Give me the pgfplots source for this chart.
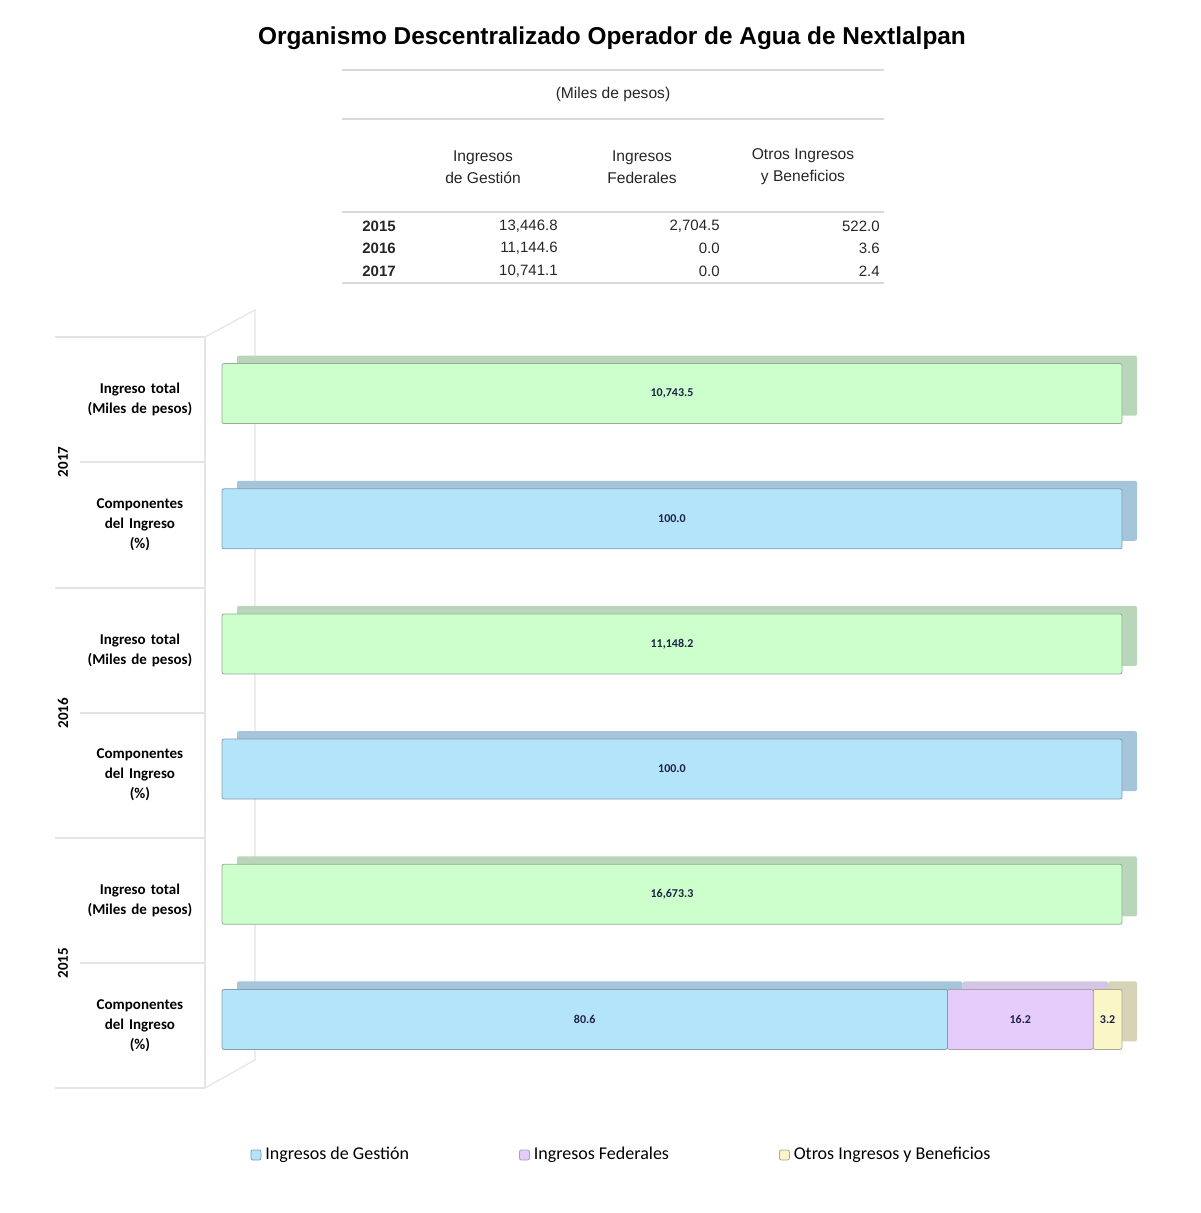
\documentclass[border=0pt]{standalone}
\usepackage{pgfplots}
\pgfplotsset{compat=1.18}
\usepackage{pgfplotstable}
\usepackage{fontspec}
\setmainfont{Liberation Sans}
\newfontfamily\calfont{Carlito}

\definecolor{gest}{RGB}{180,228,250}
\definecolor{gestd}{RGB}{165,198,218}
\definecolor{fed}{RGB}{230,204,250}
\definecolor{fedd}{RGB}{212,198,226}
\definecolor{otros}{RGB}{250,246,200}
\definecolor{otrosd}{RGB}{215,211,182}
\definecolor{tot}{RGB}{204,255,204}
\definecolor{totd}{RGB}{186,214,186}
\definecolor{wall}{RGB}{228,228,228}
\definecolor{lbl}{RGB}{30,35,70}

% rows: 0 = 2015 componentes, 1 = 2015 total, ... 5 = 2017 total
\pgfplotstableread{
row gestion federales otros pct total
0 80.6 16.2 3.2 0 0
1 0 0 0 100 16673.3
2 100.0 0 0 0 0
3 0 0 0 100 11148.2
4 100.0 0 0 0 0
5 0 0 0 100 10743.5
}\ingresos

\pgfplotsset{
  barbase/.style={
    xbar stacked, bar width=30pt, bar shift=3pt,
    scale only axis, width=450pt, height=375.5pt,
    xmin=0, xmax=100, ymin=-0.5, ymax=5.5,
    axis line style={draw=none}, xtick=\empty,
    major tick length=0pt, clip=false,
  },
}

\begin{document}
\begin{tikzpicture}
\begin{scope}[x=1pt, y=1pt]
\useasboundingbox (0,0) rectangle (600,-606.5);

% title and table
\node[font=\bfseries\fontsize{12.2}{14}\selectfont] at (306,-19) {Organismo Descentralizado Operador de Agua de Nextlalpan};
\foreach \yy in {-35,-59.5,-106,-141.5}
  \draw[black!15, line width=1pt] (171,\yy) -- (442,\yy);
\begin{scope}[every node/.style={font=\fontsize{7.8}{11}\selectfont, align=center, text=black!85}]
\node at (306.5,-47) {(Miles de pesos)};
\node at (241.5,-83.5) {Ingresos\\de Gestión};
\node at (321,-83.5) {Ingresos\\Federales};
\node at (401.5,-83.5) {Otros Ingresos\\y Beneficios};
\end{scope}
\begin{scope}[every node/.style={font=\fontsize{7.5}{9}\selectfont, text=black!85, inner sep=0pt}]
\node[anchor=west, font=\bfseries\fontsize{7.5}{9}\selectfont] at (181,-113) {2015};
\node[anchor=west, font=\bfseries\fontsize{7.5}{9}\selectfont] at (181,-124) {2016};
\node[anchor=west, font=\bfseries\fontsize{7.5}{9}\selectfont] at (181,-135.5) {2017};
\node[anchor=east] at (279,-113) {13,446.8};
\node[anchor=east] at (279,-124) {11,144.6};
\node[anchor=east] at (279,-135.5) {10,741.1};
\node[anchor=east] at (360,-113) {2,704.5};
\node[anchor=east] at (360,-124) {0.0};
\node[anchor=east] at (360,-135.5) {0.0};
\node[anchor=east] at (440,-113) {522.0};
\node[anchor=east] at (440,-124) {3.6};
\node[anchor=east] at (440,-135.5) {2.4};
\end{scope}

% side wall of the chart
\draw[wall, line width=0.6pt] (102.5,-168.5) -- (127.5,-155) -- (127.5,-530) -- (102.5,-544);
\draw[wall, line width=0.6pt] (102.5,-168.5) -- (102.5,-544);
\foreach \yy in {-168.5,-294,-419,-544}
  \draw[wall, line width=0.6pt] (27.5,\yy) -- (102.5,\yy);
\foreach \yy in {-231,-356.5,-481.5}
  \draw[wall, line width=0.6pt] (40,\yy) -- (102.5,\yy);
\foreach \yy/\yr in {-231/2017,-356.5/2016,-481.5/2015}
  \node[rotate=90, font=\calfont\bfseries\fontsize{7.5}{9}\selectfont] at (31.5,\yy) {\yr};
\end{scope}

% depth faces of the bars
\begin{axis}[barbase, at={(118.5pt,-540pt)}, anchor=south west, ytick=\empty]
\addplot[fill=gestd, draw=none, rounded corners=1pt] table[x=gestion, y=row] {\ingresos};
\addplot[fill=fedd, draw=none, rounded corners=1pt] table[x=federales, y=row] {\ingresos};
\addplot[fill=otrosd, draw=none, rounded corners=1pt] table[x=otros, y=row] {\ingresos};
\addplot[fill=totd, draw=none, rounded corners=1pt] table[x=pct, y=row] {\ingresos};
\end{axis}

% front faces
\begin{axis}[barbase, at={(111pt,-544pt)}, anchor=south west,
  ytick={0,...,5},
  yticklabels={{Componentes\\del Ingreso\\(\%)},{Ingreso total\\(Miles de pesos)},
               {Componentes\\del Ingreso\\(\%)},{Ingreso total\\(Miles de pesos)},
               {Componentes\\del Ingreso\\(\%)},{Ingreso total\\(Miles de pesos)}},
  yticklabel style={align=center, text width=55pt, xshift=-10pt,
    font=\calfont\bfseries\fontsize{7.5}{10}\selectfont},
  point meta=explicit,
  nodes near coords={\pgfmathfloatifflags{\pgfplotspointmeta}{0}{}{\pgfmathprintnumber[fixed,fixed zerofill,precision=1,1000 sep={,},assume math mode=true]{\pgfplotspointmeta}}},
  every node near coord/.append style={font=\calfont\bfseries\fontsize{6}{7}\selectfont, text=lbl},
  legend columns=3,
  legend image code/.code={\fill[#1] (0pt,-2.5pt) rectangle (5pt,2.5pt);},
  legend style={at={(0.445,0)}, anchor=center, yshift=-33.5pt, draw=none,
    font=\calfont\fontsize{9}{10}\selectfont,
    /tikz/every odd column/.append style={column sep=0pt},
    /tikz/every even column/.append style={column sep=53pt}},
]
\addplot[fill=gest, draw=gestd!80!black, line width=0.4pt, rounded corners=1pt] table[x=gestion, y=row, meta=gestion] {\ingresos};
\addplot[fill=fed, draw=fedd!80!black, line width=0.4pt, rounded corners=1pt] table[x=federales, y=row, meta=federales] {\ingresos};
\addplot[fill=otros, draw=otrosd!80!black, line width=0.4pt, rounded corners=1pt] table[x=otros, y=row, meta=otros] {\ingresos};
\addplot[fill=tot, draw=totd!80!black, line width=0.4pt, rounded corners=1pt, forget plot] table[x=pct, y=row, meta=total] {\ingresos};
\legend{Ingresos de Gestión, Ingresos Federales, Otros Ingresos y Beneficios}
\end{axis}
\end{tikzpicture}
\end{document}
